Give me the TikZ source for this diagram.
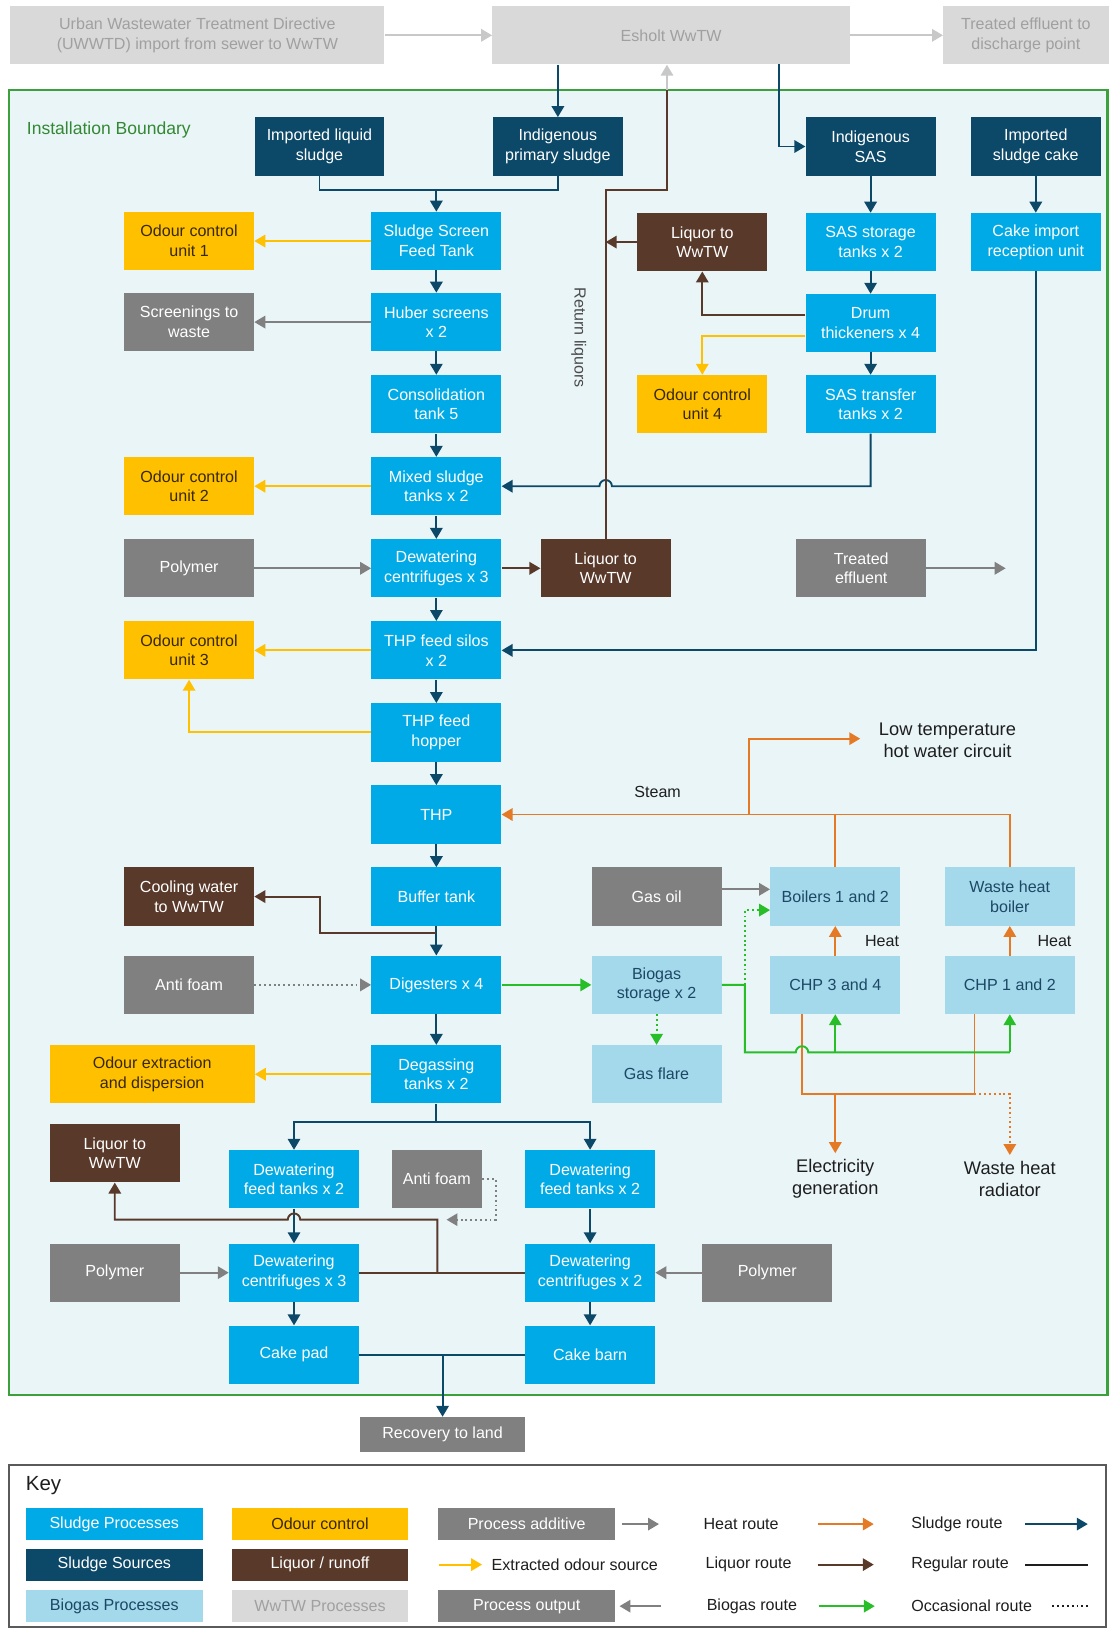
\documentclass[tikz,border=0pt]{standalone}
\usepackage{fontspec}
\setmainfont{Liberation Sans}
\usetikzlibrary{arrows.meta}

\definecolor{sludgeblue}{RGB}{0,170,230}
\definecolor{sourcenavy}{RGB}{12,72,104}
\definecolor{biogasblue}{RGB}{164,216,235}
\definecolor{biogastext}{RGB}{28,72,102}
\definecolor{odouryellow}{RGB}{255,192,0}
\definecolor{odourtext}{RGB}{55,40,10}
\definecolor{liquorbrown}{RGB}{89,57,42}
\definecolor{additivegrey}{RGB}{128,128,128}
\definecolor{worksgrey}{RGB}{217,217,217}
\definecolor{workstext}{RGB}{160,160,160}
\definecolor{worksline}{RGB}{200,200,200}
\definecolor{heatorange}{RGB}{228,122,38}
\definecolor{biogasgreen}{RGB}{40,190,40}
\definecolor{boundaryfill}{RGB}{234,245,248}
\definecolor{boundarygreen}{RGB}{60,160,60}
\definecolor{labeltext}{RGB}{30,30,30}
\definecolor{keyframe}{RGB}{90,90,90}

\tikzset{
  box/.style={rectangle, minimum width=3.125cm, minimum height=1.4cm, inner sep=1pt, align=center, font=\fontsize{11}{13.5}\selectfont},
  process/.style={box, fill=sludgeblue, text=white},
  source/.style={box, fill=sourcenavy, text=white},
  biogas/.style={box, fill=biogasblue, text=biogastext},
  odour/.style={box, fill=odouryellow, text=odourtext},
  liquor/.style={box, fill=liquorbrown, text=white},
  additive/.style={box, fill=additivegrey, text=white},
  works/.style={box, fill=worksgrey, text=workstext},
  keybox/.style={minimum width=4.25cm, minimum height=0.775cm},
  caption/.style={align=center, text=labeltext, font=\fontsize{12.5}{15}\selectfont},
  legend/.style={anchor=west, inner sep=0pt, text=labeltext, font=\fontsize{11}{13.5}\selectfont},
  tiphead/.style={-{Triangle[length=7.5pt,width=8.5pt]}},
  route/.style={line width=1.3pt},
  sludgeline/.style={route, draw=sourcenavy},
  sludgearrow/.style={sludgeline, tiphead},
  liquorline/.style={route, draw=liquorbrown},
  liquorarrow/.style={liquorline, tiphead},
  odourarrow/.style={route, draw=odouryellow, tiphead},
  additivearrow/.style={route, draw=additivegrey, tiphead},
  worksarrow/.style={route, draw=worksline, tiphead},
  heatline/.style={route, draw=heatorange},
  heatarrow/.style={heatline, tiphead},
  gasline/.style={route, draw=biogasgreen},
  gasarrow/.style={gasline, tiphead},
  occasional/.style={dotted},
}

\begin{document}
\begin{tikzpicture}[x=0.025cm, y=-0.025cm]
    \useasboundingbox (0,0) rectangle (1067,1568);
    \fill[white] (0,0) rectangle (1067,1568);

    % wastewater works
    \node[works, minimum width=9cm] (uwwtd) at (190,34) {Urban Wastewater Treatment Directive\\(UWWTD) import from sewer to WwTW};
    \node[works, minimum width=8.6cm] (esholt) at (646,34) {Esholt WwTW};
    \node[works, minimum width=3.975cm] (discharge) at (987.5,34) {Treated effluent to\\discharge point};
    \draw[worksarrow] (uwwtd) -- (esholt);
    \draw[worksarrow] (esholt) -- (discharge);

    % boundary
    \draw[boundarygreen, fill=boundaryfill, line width=1.5pt] (9,87) rectangle (1066,1343);
    \node[anchor=west, text=boundarygreen!85!black, font=\fontsize{12}{14}\selectfont] (boundary) at (21,125) {Installation Boundary};

    % sources
    \node[source] (importliquid) at (307.5,141) {Imported liquid\\sludge};
    \node[source] (primary) at (537,141) {Indigenous\\primary sludge};
    \node[source] (indsas) at (838,141) {Indigenous\\SAS};
    \node[source] (importcake) at (997,141) {Imported\\sludge cake};

    % main sludge column
    \node[process] (screenfeed) at (420,232) {Sludge Screen\\Feed Tank};
    \node[process] (huber) at (420,310) {Huber screens\\x 2};
    \node[process] (consol) at (420,389) {Consolidation\\tank 5};
    \node[process] (mixed) at (420,468) {Mixed sludge\\tanks x 2};
    \node[process] (dewater) at (420,547) {Dewatering\\centrifuges x 3};
    \node[process] (silos) at (420,626) {THP feed silos\\x 2};
    \node[process] (hopper) at (420,705) {THP feed\\hopper};
    \node[process] (thp) at (420,784) {THP};
    \node[process] (buffer) at (420,863) {Buffer tank};
    \node[process] (digest) at (420,948) {Digesters x 4};
    \node[process] (degas) at (420,1034) {Degassing\\tanks x 2};

    % left column
    \node[odour] (odour1) at (182,232) {Odour control\\unit 1};
    \node[additive] (screenings) at (182,310) {Screenings to\\waste};
    \node[odour] (odour2) at (182,468) {Odour control\\unit 2};
    \node[additive] (polymerA) at (182,547) {Polymer};
    \node[odour] (odour3) at (182,626) {Odour control\\unit 3};
    \node[liquor] (cooling) at (182,863) {Cooling water\\to WwTW};
    \node[additive] (antifoamA) at (182,948) {Anti foam};
    \node[odour, minimum width=4.925cm] (odourext) at (146.5,1034) {Odour extraction\\and dispersion};

    % SAS side
    \node[liquor] (liquorA) at (676,233) {Liquor to\\WwTW};
    \node[process] (sasstore) at (838,233) {SAS storage\\tanks x 2};
    \node[process] (cakeimport) at (997,233) {Cake import\\reception unit};
    \node[process] (drum) at (838,311) {Drum\\thickeners x 4};
    \node[odour] (odour4) at (676,389) {Odour control\\unit 4};
    \node[process] (sastransfer) at (838,389) {SAS transfer\\tanks x 2};
    \node[liquor] (liquorB) at (583,547) {Liquor to\\WwTW};
    \node[additive] (treated) at (829,547) {Treated\\effluent};
    \coordinate (treatedout) at (968,547);

    % biogas and heat
    \node[additive] (gasoil) at (632,863) {Gas oil};
    \node[biogas] (boilers) at (804,863) {Boilers 1 and 2};
    \node[biogas] (wasteboiler) at (972,863) {Waste heat\\boiler};
    \node[biogas] (storage) at (632,948) {Biogas\\storage x 2};
    \node[biogas] (chpB) at (804,948) {CHP 3 and 4};
    \node[biogas] (chpA) at (972,948) {CHP 1 and 2};
    \node[biogas] (flare) at (632,1034) {Gas flare};
    \node[caption] (lowtemp) at (912,713) {Low temperature\\hot water circuit};
    \node[caption, font=\fontsize{11}{13.5}\selectfont] (steam) at (633,762) {Steam};
    \node[caption, font=\fontsize{11}{13.5}\selectfont] (heatB) at (849,906) {Heat};
    \node[caption, font=\fontsize{11}{13.5}\selectfont] (heatA) at (1015,906) {Heat};
    \node[caption, inner sep=0pt] (elec) at (804,1135) {Electricity\\generation};
    \node[caption, inner sep=0pt] (radiator) at (972,1135) {Waste heat\\radiator};

    % dewatering
    \node[liquor] (liquorC) at (110.5,1110) {Liquor to\\WwTW};
    \node[process] (feedA) at (283,1135) {Dewatering\\feed tanks x 2};
    \node[additive, minimum width=2.175cm] (antifoamB) at (420.5,1135) {Anti foam};
    \node[process] (feedB) at (568,1135) {Dewatering\\feed tanks x 2};
    \node[additive] (polymerB) at (110.5,1225) {Polymer};
    \node[process] (centA) at (283,1225) {Dewatering\\centrifuges x 3};
    \node[process] (centB) at (568,1225) {Dewatering\\centrifuges x 2};
    \node[additive] (polymerC) at (738.5,1225) {Polymer};
    \node[process] (cakepad) at (283,1304) {Cake pad};
    \node[process] (cakebarn) at (568,1304) {Cake barn};
    \node[additive, minimum width=3.975cm, minimum height=0.85cm] (recovery) at (426,1381) {Recovery to land};

    % junctions
    \coordinate (sasdrop) at (750,62);
    \coordinate (merge) at (420,183);
    \coordinate (returnbend) at (642,183);
    \coordinate (returnexit) at (642,87);
    \coordinate (hopA) at (583,468);
    \coordinate (coolsplit) at (420,898);
    \coordinate (coolbend) at (308,863);
    \coordinate (steamjoin) at (721,784);
    \coordinate (lowin) at (828,711);
    \coordinate (gasjoin) at (717,948);
    \coordinate (gasbus) at (717,1013);
    \coordinate (hopB) at (772,1013);
    \coordinate (powerA) at (772,976);
    \coordinate (powerbus) at (804,1053);
    \coordinate (powerB) at (938,976);
    \coordinate (radbus) at (938,1053);
    \coordinate (split) at (420,1080);
    \coordinate (liqrise) at (421,1225);
    \coordinate (liqtop) at (421,1174);
    \coordinate (hopC) at (283,1174);
    \coordinate (afbend) at (477,1174);
    \coordinate (cakejoin) at (426,1304);

    % sludge routes
    \draw[sludgearrow] (esholt.south -| primary) -- (primary);
    \draw[sludgearrow] (sasdrop) |- (indsas);
    \draw[sludgeline] (importliquid) |- (merge) -| (primary);
    \draw[sludgearrow] (merge) -- (screenfeed);
    \foreach \a/\b in {screenfeed/huber, huber/consol, consol/mixed, mixed/dewater, dewater/silos, silos/hopper, hopper/thp, thp/buffer, buffer/digest, digest/degas}
        \draw[sludgearrow] (\a) -- (\b);
    \foreach \a/\b in {indsas/sasstore, importcake/cakeimport, sasstore/drum, drum/sastransfer}
        \draw[sludgearrow] (\a) -- (\b);
    \draw[sludgearrow] (sastransfer) -- (sastransfer |- mixed) -- ([xshift=0.15cm]hopA) arc[start angle=0, end angle=180, radius=0.15cm] -- (mixed);
    \draw[sludgearrow] (cakeimport) |- (silos);

    % return liquors
    \draw[liquorline] (liquorB) |- (returnbend) -- (returnexit);
    \draw[worksarrow] (returnexit) -- (esholt.south -| returnexit);
    \draw[liquorarrow] (liquorA) -- (liquorA -| liquorB);
    \node[rotate=-90, text=labeltext!80, font=\fontsize{11}{13.5}\selectfont] (returnlabel) at (557,325) {Return liquors};
    \draw[liquorarrow] ([yshift=0.2cm]drum.west) -| (liquorA);
    \draw[liquorarrow] (dewater) -- (liquorB);
    \draw[liquorarrow] (coolsplit) -| (coolbend) -- (cooling);

    % odour and additives
    \draw[odourarrow] (screenfeed) -- (odour1);
    \draw[odourarrow] (mixed) -- (odour2);
    \draw[odourarrow] (silos) -- (odour3);
    \draw[odourarrow] (hopper.west) -| (odour3.south);
    \draw[odourarrow] (degas) -- (odourext);
    \draw[odourarrow] ([yshift=-0.3cm]drum.west) -| (odour4);
    \draw[additivearrow] (huber) -- (screenings);
    \draw[additivearrow] (polymerA) -- (dewater);
    \draw[additivearrow, occasional] (antifoamA) -- (digest);
    \draw[additivearrow] (treated) -- (treatedout);

    % heat
    \draw[heatarrow] (wasteboiler) |- (thp);
    \draw[heatline] (boilers) -- (boilers |- thp);
    \draw[heatarrow] (steamjoin) |- (lowin);
    \draw[heatarrow] (chpB) -- (boilers);
    \draw[heatarrow] (chpA) -- (wasteboiler);
    \draw[heatline] (powerA) |- (powerbus) -| (powerB);
    \draw[heatarrow] (powerbus) -- ([yshift=0.15cm]elec.north);
    \draw[heatarrow, occasional] (radbus) -| ([yshift=0.15cm]radiator.north);

    % biogas
    \draw[gasarrow] (digest) -- (storage);
    \draw[additivearrow] ([yshift=0.175cm]gasoil.east) -- ([yshift=0.175cm]boilers.west);
    \draw[gasarrow, occasional] (gasjoin) |- ([yshift=-0.325cm]boilers.west);
    \draw[gasarrow, occasional] (storage) -- (flare);
    \draw[gasline] (storage) -- (gasjoin) -- (gasbus) -- ([xshift=-0.15cm]hopB) arc[start angle=180, end angle=0, radius=0.15cm] -- (gasbus -| chpA);
    \draw[gasarrow] (gasbus -| chpB) -- (chpB);
    \draw[gasarrow] (gasbus -| chpA) -- (chpA);

    % dewatering
    \draw[sludgeline] (degas) -- (split);
    \draw[sludgearrow] (split) -| (feedA);
    \draw[sludgearrow] (split) -| (feedB);
    \draw[sludgearrow] (feedA) -- (centA);
    \draw[sludgearrow] (feedB) -- (centB);
    \draw[sludgearrow] (centA) -- (cakepad);
    \draw[sludgearrow] (centB) -- (cakebarn);
    \draw[additivearrow] (polymerB) -- (centA);
    \draw[additivearrow] (polymerC) -- (centB);
    \draw[liquorline] (centA) -- (centB);
    \draw[liquorarrow] (liqrise) -- (liqtop) -- ([xshift=0.15cm]hopC) arc[start angle=0, end angle=180, radius=0.15cm] -| (liquorC);
    \draw[additivearrow, occasional] (antifoamB) -| (afbend) -- ([xshift=0.22cm]liqtop);
    \draw[sludgeline] (cakepad) -- (cakebarn);
    \draw[sludgearrow] (cakejoin) -- (recovery);

    % key
    \draw[keyframe, line width=1.3pt] (9,1410) rectangle (1065,1566);
    \node[anchor=west, text=labeltext, font=\fontsize{14}{16}\selectfont] (keytitle) at (20,1430) {Key};
    \node[process, keybox] (kprocess) at (110,1467) {Sludge Processes};
    \node[odour, keybox] (kodour) at (308,1467) {Odour control};
    \node[additive, keybox] (kadditive) at (507,1467) {Process additive};
    \node[source, keybox] (ksource) at (110,1506) {Sludge Sources};
    \node[liquor, keybox] (kliquor) at (308,1506) {Liquor / runoff};
    \node[biogas, keybox] (kbiogas) at (110,1546) {Biogas Processes};
    \node[works, keybox] (kworks) at (308,1546) {WwTW Processes};
    \node[additive, keybox] (koutput) at (507,1546) {Process output};
    \node[legend] (lodour) at (473,1506) {Extracted odour source};
    \node[legend] (lheat) at (677,1467) {Heat route};
    \node[legend] (lliquor) at (679,1506) {Liquor route};
    \node[legend] (lbiogas) at (680,1546) {Biogas route};
    \node[legend] (lsludge) at (877,1467) {Sludge route};
    \node[legend] (lregular) at (877,1506) {Regular route};
    \node[legend] (loccasional) at (877,1546) {Occasional route};
    \draw[additivearrow] ([xshift=0.15cm]kadditive.east) -- ++(36,0);
    \draw[additivearrow] ([xshift=1.1cm]koutput.east) -- ++(-40,0);
    \draw[odourarrow] ([xshift=-1.25cm]lodour.west) -- ++(41,0);
    \draw[heatarrow] ([xshift=2.75cm]lheat.west) -- ++(54,0);
    \draw[liquorarrow] ([xshift=2.7cm]lliquor.west) -- ++(54,0);
    \draw[gasarrow] ([xshift=2.7cm]lbiogas.west) -- ++(54,0);
    \draw[sludgearrow] ([xshift=2.75cm]lsludge.west) -- ++(60,0);
    \draw[route, draw=labeltext] ([xshift=2.75cm]lregular.west) -- ++(60,0);
    \draw[route, draw=labeltext, occasional] ([xshift=3.4cm]loccasional.west) -- ++(34,0);
\end{tikzpicture}
\end{document}
